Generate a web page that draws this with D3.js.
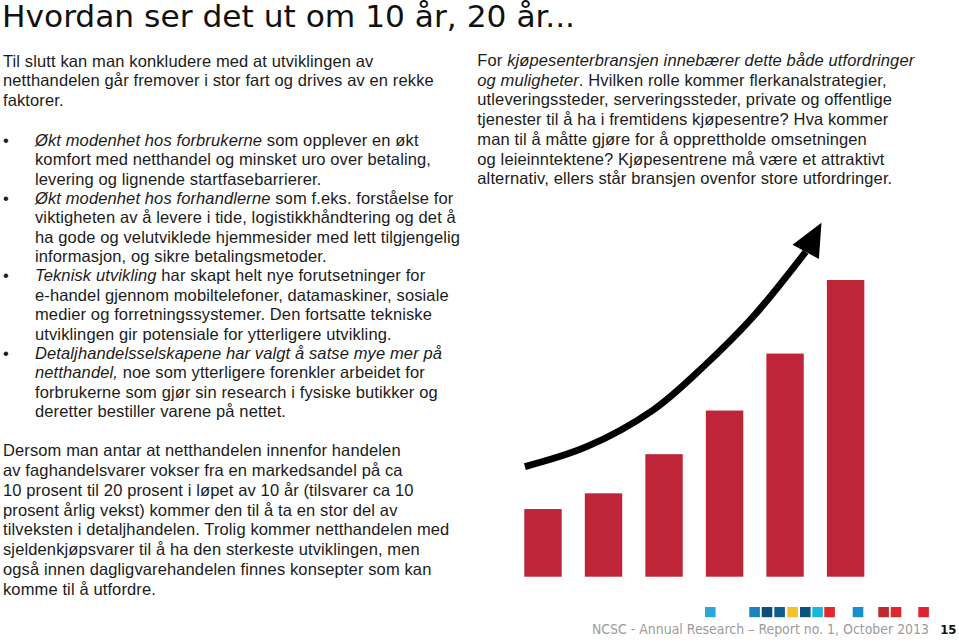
<!DOCTYPE html>
<html>
<head>
<meta charset="utf-8">
<script src="https://cdn.jsdelivr.net/npm/d3@7"></script>
<style>
  html, body { margin: 0; padding: 0; background: #fff; }
  svg { display: block; }
  .body { font-family: "Liberation Sans", Arial, sans-serif; font-size: 16.5px; letter-spacing: 0.12px; fill: #1b1b1b; }
</style>
</head>
<body>
<svg id="page" width="959" height="643"></svg>
<script>
// ---------- DATA ----------
const categories = ["1", "2", "3", "4", "5", "6"];
const values = [22.8, 28.1, 41.3, 56.0, 75.2, 100];
// trend arrow drawn over the bars, in (bar index, value) units
const arrowIdx = [0.01, 1.03, 2.13, 2.96, 3.78, 4.65];
const arrowVal = [37.1, 43.8, 56.2, 70.8, 87.6, 109.5];
const arrowTip = [4.91, 119.3];

const titleText = "Hvordan ser det ut om 10 år, 20 år...";
const footerText = "NCSC - Annual Research – Report no. 1, October 2013";
const pageNumber = "15";

// text lines: arrays of [text, italic]
const introLines = [
  [["Til slutt kan man konkludere med at utviklingen av", false]],
  [["netthandelen går fremover i stor fart og drives av en rekke", false]],
  [["faktorer.", false]]
];
const bulletLines = [
  [["Økt modenhet hos forbrukerne", true], [" som opplever en økt", false]],
  [["komfort med netthandel og minsket uro over betaling,", false]],
  [["levering og lignende startfasebarrierer.", false]],
  [["Økt modenhet hos forhandlerne", true], [" som f.eks. forståelse for", false]],
  [["viktigheten av å levere i tide, logistikkhåndtering og det å", false]],
  [["ha gode og velutviklede hjemmesider med lett tilgjengelig", false]],
  [["informasjon, og sikre betalingsmetoder.", false]],
  [["Teknisk utvikling", true], [" har skapt helt nye forutsetninger for", false]],
  [["e-handel gjennom mobiltelefoner, datamaskiner, sosiale", false]],
  [["medier og forretningssystemer. Den fortsatte tekniske", false]],
  [["utviklingen gir potensiale for ytterligere utvikling.", false]],
  [["Detaljhandelsselskapene har valgt å satse mye mer på", true]],
  [["netthandel,", true], [" noe som ytterligere forenkler arbeidet for", false]],
  [["forbrukerne som gjør sin research i fysiske butikker og", false]],
  [["deretter bestiller varene på nettet.", false]]
];
const bulletStarts = [0, 3, 7, 11];
const bottomLines = [
  "Dersom man antar at netthandelen innenfor handelen",
  "av faghandelsvarer vokser fra en markedsandel på ca",
  "10 prosent til 20 prosent i løpet av 10 år (tilsvarer ca 10",
  "prosent årlig vekst) kommer den til å ta en stor del av",
  "tilveksten i detaljhandelen. Trolig kommer netthandelen med",
  "sjeldenkjøpsvarer til å ha den sterkeste utviklingen, men",
  "også innen dagligvarehandelen finnes konsepter som kan",
  "komme til å utfordre."
];
const rightLines = [
  [["For ", false], ["kjøpesenterbransjen innebærer dette både utfordringer", true]],
  [["og muligheter", true], [". Hvilken rolle kommer flerkanalstrategier,", false]],
  [["utleveringssteder, serveringssteder, private og offentlige", false]],
  [["tjenester til å ha i fremtidens kjøpesentre? Hva kommer", false]],
  [["man til å måtte gjøre for å opprettholde omsetningen", false]],
  [["og leieinntektene? Kjøpesentrene må være et attraktivt", false]],
  [["alternativ, ellers står bransjen ovenfor store utfordringer.", false]]
];
const footerSquareOffsets = [0, 44.3, 56.7, 69.3, 82.3, 95, 107.3, 119.3, 147.7, 173.3, 185.7, 213.3];
const footerSquareColors = ["#2aa7d9", "#1984c1", "#0d4d7c", "#125d8f", "#f4c02b", "#0e5283",
                            "#1cb6dc", "#e3272f", "#168fcc", "#bd2b2b", "#e0262e", "#df2430"];

// ---------- DRAW ----------
const svg = d3.select("#page");

// title
svg.append("text")
  .attr("x", 2).attr("y", 27)
  .attr("textLength", 573).attr("lengthAdjust", "spacingAndGlyphs")
  .style("font-family", "'DejaVu Sans Condensed', 'DejaVu Sans', sans-serif")
  .style("font-size", "30px").style("fill", "#111")
  .text(titleText);

function drawLines(g, lines, x, y0, dy) {
  lines.forEach((segs, i) => {
    const t = g.append("text").attr("class", "body")
      .attr("x", x).attr("y", y0 + i * dy).attr("xml:space", "preserve");
    segs.forEach(([s, it]) => {
      t.append("tspan").style("font-style", it ? "italic" : "normal").text(s);
    });
  });
}

const gText = svg.append("g");
drawLines(gText, introLines, 3, 66.7, 19.5);
drawLines(gText, bulletLines, 35, 146, 19.35);
bulletStarts.forEach(i => {
  gText.append("text").attr("class", "body").attr("x", 3).attr("y", 146 + i * 19.35).text("•");
});
drawLines(gText, bottomLines.map(s => [[s, false]]), 3, 456, 19.86);
drawLines(gText, rightLines, 477.3, 66, 19.7);

// bar chart
const x = d3.scaleBand().domain(categories).range([524.3, 864.3]).paddingInner(0.382).paddingOuter(0);
const y = d3.scaleLinear().domain([0, 100]).range([576.7, 280]);
const xi = d3.scaleLinear().domain([0, categories.length - 1]).range([x(categories[0]), x(categories[categories.length - 1])]);

svg.append("g").selectAll("rect").data(values).join("rect")
  .attr("x", (d, i) => x(categories[i]))
  .attr("y", d => y(d))
  .attr("width", x.bandwidth())
  .attr("height", d => y(0) - y(d))
  .attr("fill", "#be2538");

// trend arrow
const pts = arrowIdx.map((v, i) => [xi(v), y(arrowVal[i])]);
const line = d3.line().curve(d3.curveCatmullRom.alpha(0.5));
svg.append("path").attr("d", line(pts))
  .attr("fill", "none").attr("stroke", "#000").attr("stroke-width", 6.8);
const tip = [xi(arrowTip[0]), y(arrowTip[1])];
const base = pts[pts.length - 1];
const dx = tip[0] - base[0], dyy = tip[1] - base[1];
const len = Math.hypot(dx, dyy);
const nx = -dyy / len, ny = dx / len;
const hw = 15;
svg.append("path")
  .attr("d", d3.line()([tip, [base[0] + nx * hw, base[1] + ny * hw], [base[0] - nx * hw, base[1] - ny * hw]]) + "Z")
  .attr("fill", "#000");

// footer squares
svg.append("g").selectAll("rect").data(footerSquareOffsets).join("rect")
  .attr("x", d => 705 + d).attr("y", 607).attr("width", 10.6).attr("height", 10.2)
  .attr("fill", (d, i) => footerSquareColors[i]);

svg.append("text")
  .attr("x", 592).attr("y", 634)
  .attr("textLength", 337).attr("lengthAdjust", "spacingAndGlyphs")
  .style("font-family", "'DejaVu Sans Condensed', 'DejaVu Sans', sans-serif")
  .style("font-size", "14px").style("font-weight", 200).style("fill", "#9b9b9b")
  .text(footerText);
svg.append("text")
  .attr("x", 956.5).attr("y", 634)
  .attr("text-anchor", "end")
  .style("font-family", "'Liberation Sans Narrow', 'DejaVu Sans Condensed', sans-serif")
  .style("font-size", "13px").style("font-weight", "bold").style("fill", "#111")
  .text(pageNumber);
</script>
</body>
</html>
